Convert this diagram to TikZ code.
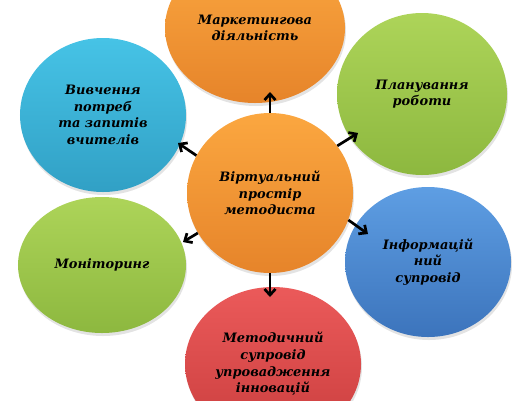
\documentclass[tikz,border=0pt]{standalone}
\usepackage{fontspec}
\setmainfont{DejaVu Serif}
\usetikzlibrary{shapes.geometric,arrows.meta,shadows}
\definecolor{orT}{HTML}{FBA740}\definecolor{orB}{HTML}{E6842A}
\definecolor{cyT}{HTML}{46C3E6}\definecolor{cyB}{HTML}{31A0C5}
\definecolor{grT}{HTML}{ADD459}\definecolor{grB}{HTML}{8DB83F}
\definecolor{blT}{HTML}{5E9EE3}\definecolor{blB}{HTML}{3C74BC}
\definecolor{rdT}{HTML}{EB5A5A}\definecolor{rdB}{HTML}{CA3E3E}
\begin{document}
\begin{tikzpicture}[x=1bp,y=-1bp,
  bubble/.style={ellipse, inner sep=0pt, align=center,
    font=\fontsize{13}{16.7}\selectfont\bfseries\itshape,
    drop shadow={opacity=0.22, shadow xshift=1bp, shadow yshift=-3bp}},
  orangeb/.style={bubble, top color=orT, bottom color=orB},
  cyanb/.style={bubble, top color=cyT, bottom color=cyB},
  greenb/.style={bubble, top color=grT, bottom color=grB},
  blueb/.style={bubble, top color=blT, bottom color=blB},
  redb/.style={bubble, top color=rdT, bottom color=rdB},
  arr/.style={line width=2.7bp, -{Straight Barb[length=6bp,width=11bp]}}]
\useasboundingbox (0,0) rectangle (528,400);
\node[orangeb, minimum width=180bp, minimum height=150bp] (mk) at (255,28) {Маркетингова\\діяльність};
\node[cyanb, minimum width=166bp, minimum height=154bp] (vy) at (103,115) {Вивчення\\потреб\\та запитів\\вчителів};
\node[greenb, minimum width=170bp, minimum height=162bp] (pl) at (422,94) {Планування\\роботи};
\node[greenb, minimum width=168bp, minimum height=136bp] (mo) at (102,265) {Моніторинг};
\node[blueb, minimum width=166bp, minimum height=150bp] (in) at (428,262) {Інформацій\\ний\\супровід};
\node[redb, minimum width=176bp, minimum height=154bp] (me) at (273,364) {Методичний\\супровід\\упровадження\\інновацій};
\node[orangeb, minimum width=166bp, minimum height=160bp] (c) at (270,193) {Віртуальний\\простір\\методиста};
\coordinate (tmk) at (270,92);
\coordinate (tvy) at (178,143);
\coordinate (tpl) at (358,133);
\coordinate (tmo) at (183,242);
\coordinate (tin) at (368,234);
\coordinate (tme) at (270,297);
\draw[arr] (c.90) -- (tmk);
\draw[arr] (c.153) -- (tvy);
\draw[arr] (c.35.5) -- (tpl);
\draw[arr] (c.209.7) -- (tmo);
\draw[arr] (c.-19) -- (tin);
\draw[arr] (c.270) -- (tme);
\end{tikzpicture}
\end{document}
